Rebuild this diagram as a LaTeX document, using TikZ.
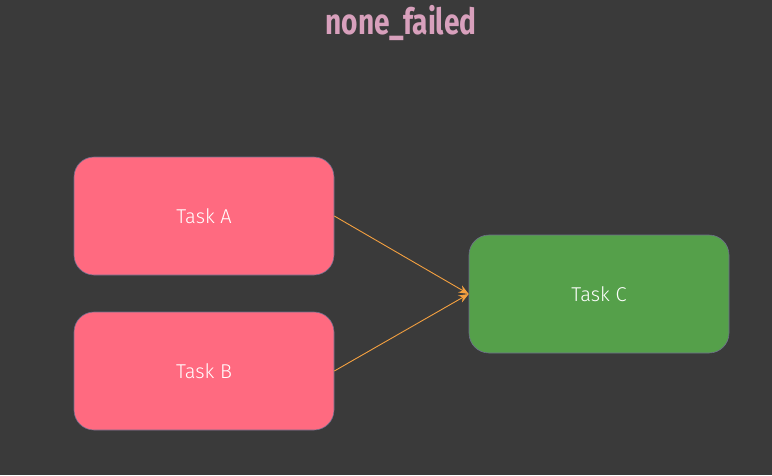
\documentclass[tikz,border=0pt]{standalone}
\usepackage{fontspec}
\usetikzlibrary{arrows.meta}
\newfontfamily\titlefont[FakeStretch=0.78]{Fira Sans}
\newfontfamily\taskfont{Fira Sans Light}

\definecolor{bgdark}{HTML}{3A3A3A}
\definecolor{taskpink}{HTML}{FF6A80}
\definecolor{taskgreen}{HTML}{55A04A}
\definecolor{edgeorange}{HTML}{F4A040}
\definecolor{titlepink}{HTML}{D8A0BC}
\definecolor{boxline}{HTML}{6E6E8C}

\tikzset{
  taskbox/.style={draw=boxline, line width=0.6pt, rounded corners=20pt,
    minimum width=260pt, minimum height=118pt, inner sep=0pt,
    text=white, font=\taskfont\fontsize{20}{24}\selectfont},
  dep/.style={draw=edgeorange, line width=0.9pt, -{Stealth[length=10pt,width=8pt]}}
}

\begin{document}
\begin{tikzpicture}[x=1pt,y=-1pt]

\fill[bgdark] (0,0) rectangle (772,475);
\useasboundingbox (0,0) rectangle (772,475);

% title
\node (title) at (401,23) {\titlefont\bfseries\fontsize{36}{40}\selectfont\color{titlepink}none\_failed};

% tasks
\node[taskbox, fill=taskpink] (taskA) at (204,216) {Task A};
\node[taskbox, fill=taskpink] (taskB) at (204,371) {Task B};
\node[taskbox, fill=taskgreen] (taskC) at (599,294) {Task C};

% dependencies
\draw[dep] (taskA.east) -- (taskC.west);   % A-C
\draw[dep] (taskB.east) -- (taskC.west);   % B-C

\end{tikzpicture}
\end{document}
